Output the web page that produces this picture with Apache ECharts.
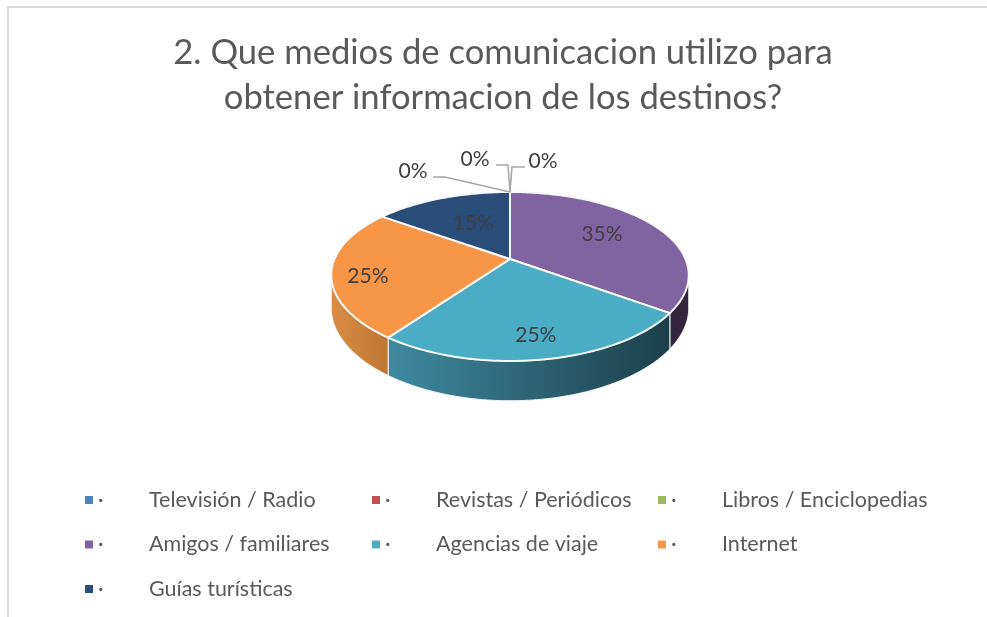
<!DOCTYPE html>
<html>
<head>
<meta charset="utf-8">
<style>
    html, body { margin: 0; padding: 0; background: #fff; }
    #chart { width: 987px; height: 617px; }
</style>
<script src="https://cdn.jsdelivr.net/npm/echarts@6/dist/echarts.min.js"></script>
</head>
<body>
<div id="chart"></div>
<script>
var titleText = '2. Que medios de comunicacion utilizo para\nobtener informacion de los destinos?'
var categories = ['Televisión / Radio', 'Revistas / Periódicos', 'Libros / Enciclopedias', 'Amigos / familiares', 'Agencias de viaje', 'Internet', 'Guías turísticas']
var values = [0, 0, 0, 35, 25, 25, 15]

var colors = ['#4f81bd', '#c0504d', '#9bbb59', '#8064a2', '#4bacc6', '#f79646', '#2a4d7a']
var sideColors = [null, null, null, ['#33243f', '#33243f'], ['#3f8aa0', '#1c3f4b'], ['#d98c45', '#bf7632'], null]

// tilted pie: circle is projected with a small perspective so the near side looks bigger
var cx = 510, cy = 259, rx = 175.5, ry = 80.9, perspX = 0.19, perspY = 0.207, depth = 31.5
var sideFrom = 101.5, sideTo = 258.5

// label placement for the non zero slices: fraction of radius, extra y
var labelRho = [0, 0, 0, 0.62, 0.8, 0.8, 0.5]
var labelDy = [0, 0, 0, -3, 0, 7, -3]
// leader lines of the 0% labels, relative to the slice edge
var leaders = [
    { text: [33, -31], line: [[15, -25], [2, -25], [0, 0]] },
    { text: [-35, -33], line: [[-14, -27], [-2, -27], [0, 0]] },
    { text: [-97, -21], line: [[-77, -15], [-65, -15], [0, 0]] }
]

var total = values.reduce(function (a, b) { return a + b }, 0)

function project(deg, rho) {
    var r = deg * Math.PI / 180
    var u = Math.sin(r) * rho
    var v = -Math.cos(r) * rho
    var s = 1 / (1 - perspY * v)
    return { x: cx + rx * u / (1 - perspX * v), y: cy + ry * v * s, s: s }
}

function renderSlice(index, value) {
    var before = 0
    for (var i = 0; i < index; i++) before += values[i]
    var a0 = before / total * 360
    var a1 = (before + value) / total * 360
    var children = []
    var labelStyle = { text: value + '%', fontFamily: 'Lato', fontSize: 21, fill: '#404040', align: 'center', verticalAlign: 'middle' }

    if (value === 0) {
        var p0 = project(a0, 1)
        var lead = leaders[index]
        children.push({
            type: 'polyline',
            z2: 5,
            shape: { points: lead.line.map(function (d) { return [p0.x + d[0], p0.y + d[1]] }) },
            style: { stroke: '#a6a6a6', lineWidth: 1.5, fill: null }
        })
        labelStyle.x = p0.x + lead.text[0]
        labelStyle.y = p0.y + lead.text[1]
        children.push({ type: 'text', z2: 6, style: labelStyle })
        return { type: 'group', children: children }
    }

    var step = 1
    var d
    // side wall
    var s0 = Math.max(a0, sideFrom)
    var s1 = Math.min(a1, sideTo)
    if (s1 > s0) {
        var upper = []
        var lower = []
        for (d = s0; d < s1; d += step) {
            var q = project(d, 1)
            upper.push([q.x, q.y])
            lower.unshift([q.x, q.y + depth * q.s])
        }
        var qe = project(s1, 1)
        upper.push([qe.x, qe.y])
        lower.unshift([qe.x, qe.y + depth * qe.s])
        children.push({
            type: 'polygon',
            z2: 1,
            shape: { points: upper.concat(lower) },
            style: {
                fill: new echarts.graphic.LinearGradient(0, 0, 1, 0, [
                    { offset: 0, color: sideColors[index][0] },
                    { offset: 1, color: sideColors[index][1] }
                ]),
                stroke: '#f2f5f7',
                lineWidth: 1
            }
        })
    }

    // top face
    var face = [[cx, cy]]
    for (d = a0; d < a1; d += step) {
        var t = project(d, 1)
        face.push([t.x, t.y])
    }
    var te = project(a1, 1)
    face.push([te.x, te.y])
    children.push({
        type: 'polygon',
        z2: 2,
        shape: { points: face },
        style: { fill: colors[index], stroke: '#f7f9fa', lineWidth: 2, lineJoin: 'round' }
    })

    var lp = project((a0 + a1) / 2, labelRho[index])
    labelStyle.x = lp.x
    labelStyle.y = lp.y + labelDy[index]
    children.push({ type: 'text', z2: 6, style: labelStyle })
    return { type: 'group', children: children }
}

var series = categories.map(function (name, index) {
    return {
        name: name,
        type: 'custom',
        coordinateSystem: 'none',
        silent: true,
        itemStyle: { color: colors[index] },
        data: [[values[index]]],
        renderItem: function (params, api) {
            return renderSlice(index, api.value(0))
        }
    }
})

// one vertical legend per column so the columns line up
function legendColumn(left, names) {
    return {
        orient: 'vertical',
        left: left,
        top: 484,
        itemWidth: 8,
        itemHeight: 8,
        itemGap: 22.5,
        icon: 'rect',
        selectedMode: false,
        data: names,
        formatter: function (name) {
            return '{dot|·}{name|' + name + '}'
        },
        textStyle: {
            fontFamily: 'Lato',
            color: '#595959',
            rich: {
                dot: { width: 51, height: 28, fontFamily: 'Lato', fontSize: 21.5, color: '#595959' },
                name: { height: 28, fontFamily: 'Lato', fontSize: 21.5, color: '#595959' }
            }
        }
    }
}

var option = {
    backgroundColor: '#fff',
    animation: false,
    title: {
        text: titleText,
        left: 498,
        top: 25,
        textAlign: 'center',
        textStyle: { fontFamily: 'Lato', fontSize: 34.6, fontWeight: 'normal', color: '#595959', lineHeight: 45 }
    },
    legend: [
        legendColumn(80, [categories[0], categories[3], categories[6]]),
        legendColumn(367, [categories[1], categories[4]]),
        legendColumn(653, [categories[2], categories[5]])
    ],
    graphic: [
        { type: 'line', shape: { x1: 7, y1: 7, x2: 987, y2: 7 }, style: { stroke: '#d9d9d9', lineWidth: 2 } },
        { type: 'line', shape: { x1: 8, y1: 6, x2: 8, y2: 617 }, style: { stroke: '#d9d9d9', lineWidth: 2 } }
    ],
    series: series
}

var myChart = echarts.init(document.getElementById('chart'))
myChart.setOption(option)
</script>
</body>
</html>
